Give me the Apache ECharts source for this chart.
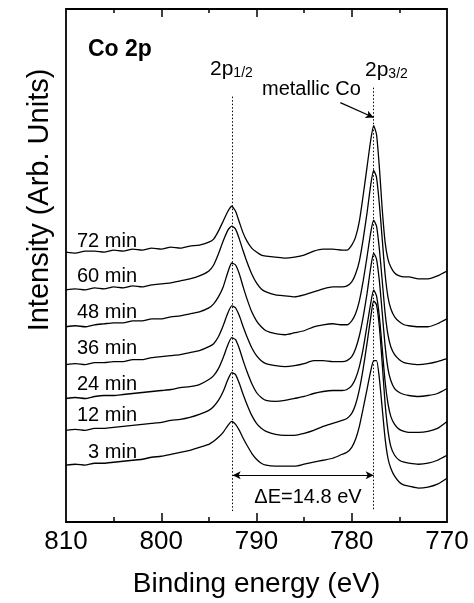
<!DOCTYPE html>
<html>
<head>
<meta charset="utf-8">
<title>Co 2p</title>
<script src="https://cdn.jsdelivr.net/npm/echarts@6/dist/echarts.min.js"></script>
<style>
  html, body { margin: 0; padding: 0; background: #fff; }
  #main { width: 474px; height: 603px; }
</style>
</head>
<body>
<div id="main"></div>
<script>
// binding energy grid (eV) shared by all spectra
const energy = [810, 809, 808, 807, 806, 805, 804, 803, 802, 801,
  800, 799, 798, 797, 796, 795, 794.5, 794, 793.5, 793,
  792.6, 792.2, 791.8, 791.4, 791, 790.5, 790, 789.5, 789, 788,
  787, 786, 785, 784, 783, 782, 781, 780.5, 780, 779.6,
  779.2, 778.8, 778.4, 778, 777.7, 777.4, 777.1, 776.8, 776.5, 776.2,
  775.9, 775.5, 775, 774.5, 774, 773, 772, 771, 770]

// stacked (offset) intensities, arb. units
const min72 = [271, 270, 272, 272, 271, 273, 272, 274, 273, 275,
  274, 276, 275, 277, 278, 281, 284, 292, 302, 312,
  317, 312, 301, 290, 282, 275, 271, 268, 267, 266,
  265, 266, 268, 272, 274, 274, 273, 273, 278, 286,
  302, 328, 356, 384, 398, 389, 356, 314, 281, 264,
  256, 250, 247, 246, 246, 244, 244, 247, 252]
const min60 = [233, 234, 233, 235, 234, 236, 235, 237, 236, 238,
  239, 240, 242, 244, 247, 252, 258, 269, 282, 293,
  297, 294, 284, 272, 261, 249, 240, 234, 231, 228,
  227, 226, 228, 231, 234, 236, 236, 237, 241, 249,
  262, 284, 310, 339, 353, 346, 319, 284, 249, 226,
  214, 206, 201, 198, 197, 196, 196, 199, 204]
const min48 = [196, 197, 196, 198, 199, 200, 200, 202, 202, 204,
  204, 206, 207, 209, 211, 215, 219, 226, 236, 251,
  260, 258, 249, 236, 224, 211, 202, 196, 192, 189,
  188, 190, 192, 196, 198, 199, 198, 198, 202, 209,
  222, 242, 266, 291, 303, 297, 274, 242, 210, 188,
  176, 168, 163, 160, 159, 158, 159, 161, 164]
const min36 = [158, 159, 158, 160, 160, 161, 161, 163, 163, 165,
  166, 167, 168, 170, 172, 176, 179, 186, 197, 210,
  217, 215, 207, 196, 186, 175, 167, 162, 159, 157,
  156, 157, 159, 162, 162, 161, 161, 162, 166, 174,
  187, 206, 229, 256, 270, 264, 242, 210, 177, 154,
  142, 134, 130, 128, 127, 126, 127, 129, 134]
const min24 = [124, 125, 124, 126, 127, 127, 128, 129, 130, 131,
  132, 133, 135, 136, 138, 143, 147, 154, 165, 178,
  185, 183, 174, 162, 151, 139, 130, 125, 122, 121,
  122, 124, 126, 129, 131, 132, 132, 133, 137, 144,
  156, 174, 197, 220, 233, 227, 206, 174, 141, 119,
  106, 98, 93, 91, 90, 90, 91, 94, 101]
const min12 = [92, 93, 92, 94, 94, 95, 96, 97, 98, 99,
  100, 102, 103, 105, 108, 112, 116, 122, 131, 143,
  150, 148, 139, 128, 118, 107, 99, 94, 91, 88,
  87, 87, 89, 92, 96, 99, 102, 104, 109, 118,
  133, 154, 179, 206, 222, 218, 196, 159, 119, 92,
  76, 67, 62, 60, 59, 58, 59, 62, 67]
const min3 = [57, 58, 57, 59, 59, 60, 61, 62, 63, 65,
  66, 68, 70, 72, 75, 78, 81, 85, 90, 97,
  101, 98, 92, 84, 77, 69, 63, 59, 57, 56,
  56, 56, 58, 60, 62, 64, 68, 70, 75, 83,
  96, 114, 133, 152, 162, 162, 144, 114, 84, 64,
  54, 46, 40, 37, 36, 34, 35, 38, 44]

const seriesNames = ['72 min', '60 min', '48 min', '36 min', '24 min', '12 min', '3 min']
const seriesValues = [min72, min60, min48, min36, min24, min12, min3]

// 2p1/2 and 2p3/2 positions (eV)
const peakEnergy = [792.5, 777.7]
const xTicks = [810, 800, 790, 780, 770]
const majorTicks = [800, 790, 780]
const minorTicks = [805, 795, 785, 775]

const FONT = '"Liberation Sans", Arial, sans-serif'
const Y_MAX = 515

const chartDom = document.getElementById('main')
const myChart = echarts.init(chartDom)

const series = seriesValues.map((vals, i) => ({
  name: seriesNames[i],
  type: 'line',
  data: energy.map((e, k) => [e, vals[k]]),
  symbol: 'none',
  smooth: 0.2,
  silent: true,
  lineStyle: { color: '#000', width: 1.3 }
}))

// dotted guide lines at the two peaks
series[0].markLine = {
  silent: true,
  symbol: ['none', 'none'],
  label: { show: false },
  lineStyle: { color: '#000', width: 1, type: [1.5, 2] },
  data: [
    [{ coord: [peakEnergy[0], 427] }, { coord: [peakEnergy[0], 11] }],
    [{ coord: [peakEnergy[1], 436] }, { coord: [peakEnergy[1], 11] }]
  ]
}
// arrows: metallic Co pointer and the ΔE span
series[1].markLine = {
  silent: true,
  label: { show: false },
  symbol: ['none', 'arrow'],
  symbolSize: [6, 8],
  lineStyle: { color: '#000', width: 1.2, type: 'solid' },
  data: [
    [{ coord: [781.2, 421] }, { coord: [peakEnergy[1], 406] }]
  ]
}
series[2].markLine = {
  silent: true,
  label: { show: false },
  symbol: ['arrow', 'arrow'],
  symbolSize: [6, 8],
  lineStyle: { color: '#000', width: 1.2, type: 'solid' },
  data: [
    [{ coord: [peakEnergy[0], 47] }, { coord: [peakEnergy[1], 47] }]
  ]
}
// inward ticks on the top and bottom frame
const tickSegs = []
majorTicks.forEach(t => {
  tickSegs.push([{ coord: [t, 0] }, { coord: [t, 9] }])
  tickSegs.push([{ coord: [t, Y_MAX] }, { coord: [t, Y_MAX - 8] }])
})
minorTicks.forEach(t => {
  tickSegs.push([{ coord: [t, 0] }, { coord: [t, 5] }])
  tickSegs.push([{ coord: [t, Y_MAX] }, { coord: [t, Y_MAX - 4] }])
})
series[3].markLine = {
  silent: true,
  label: { show: false },
  symbol: ['none', 'none'],
  lineStyle: { color: '#000', width: 1.5, type: 'solid' },
  data: tickSegs
}

const labelCenters = [241, 276, 312, 348, 384, 415, 452]
const graphic = seriesNames.map((name, i) => ({
  type: 'text',
  x: 137,
  y: labelCenters[i],
  style: { text: name, font: '20px ' + FONT, fill: '#000', textAlign: 'right', textVerticalAlign: 'middle' }
}))
graphic.push(
  {
    type: 'text', x: 40, y: 200, rotation: Math.PI / 2,
    style: { text: 'Intensity (Arb. Units)', font: '29px ' + FONT, fill: '#000', textAlign: 'center', textVerticalAlign: 'middle' }
  },
  {
    type: 'text', x: 88, y: 50,
    style: { text: 'Co 2p', font: 'bold 23px ' + FONT, fill: '#000', textVerticalAlign: 'middle' }
  },
  {
    type: 'text', x: 210, y: 58,
    style: {
      text: '{a|2p}{b|1/2}',
      rich: {
        a: { font: '21px ' + FONT, fill: '#000', lineHeight: 22 },
        b: { font: '14px ' + FONT, fill: '#000', verticalAlign: 'bottom', lineHeight: 13 }
      }
    }
  },
  {
    type: 'text', x: 365, y: 59,
    style: {
      text: '{a|2p}{b|3/2}',
      rich: {
        a: { font: '21px ' + FONT, fill: '#000', lineHeight: 22 },
        b: { font: '14px ' + FONT, fill: '#000', verticalAlign: 'bottom', lineHeight: 13 }
      }
    }
  },
  {
    type: 'text', x: 262, y: 89,
    style: { text: 'metallic Co', font: '20px ' + FONT, fill: '#000', textVerticalAlign: 'middle' }
  },
  {
    type: 'text', x: 308, y: 497,
    style: { text: '\u0394E=14.8 eV', font: '20px ' + FONT, fill: '#000', textAlign: 'center', textVerticalAlign: 'middle' }
  }
)

const option = {
  animation: false,
  grid: { left: 66, right: 27, top: 9, bottom: 79 },
  xAxis: [
    {
      type: 'value', position: 'bottom', min: 770, max: 810, interval: 10, inverse: true,
      axisLine: { show: true, onZero: false, lineStyle: { color: '#000', width: 1.8 } },
      axisTick: { show: false },
      splitLine: { show: false },
      axisLabel: {
        color: '#000', fontSize: 26, fontFamily: FONT, margin: 7,
        formatter: v => xTicks.includes(v) ? String(v) : ''
      },
      name: 'Binding energy (eV)', nameLocation: 'middle', nameGap: 48,
      nameTextStyle: { color: '#000', fontSize: 28, fontFamily: FONT }
    },
    {
      type: 'value', position: 'top', min: 770, max: 810, interval: 10, inverse: true,
      axisLine: { show: true, onZero: false, lineStyle: { color: '#000', width: 1.8 } },
      axisTick: { show: false },
      splitLine: { show: false },
      axisLabel: { show: false }
    }
  ],
  yAxis: [
    {
      type: 'value', position: 'left', min: 0, max: Y_MAX,
      axisLine: { show: true, onZero: false, lineStyle: { color: '#000', width: 1.8 } },
      axisTick: { show: false }, axisLabel: { show: false }, splitLine: { show: false }
    },
    {
      type: 'value', position: 'right', min: 0, max: Y_MAX,
      axisLine: { show: true, onZero: false, lineStyle: { color: '#000', width: 1.8 } },
      axisTick: { show: false }, axisLabel: { show: false }, splitLine: { show: false }
    }
  ],
  graphic,
  series
}
option && myChart.setOption(option)
</script>
</body>
</html>
